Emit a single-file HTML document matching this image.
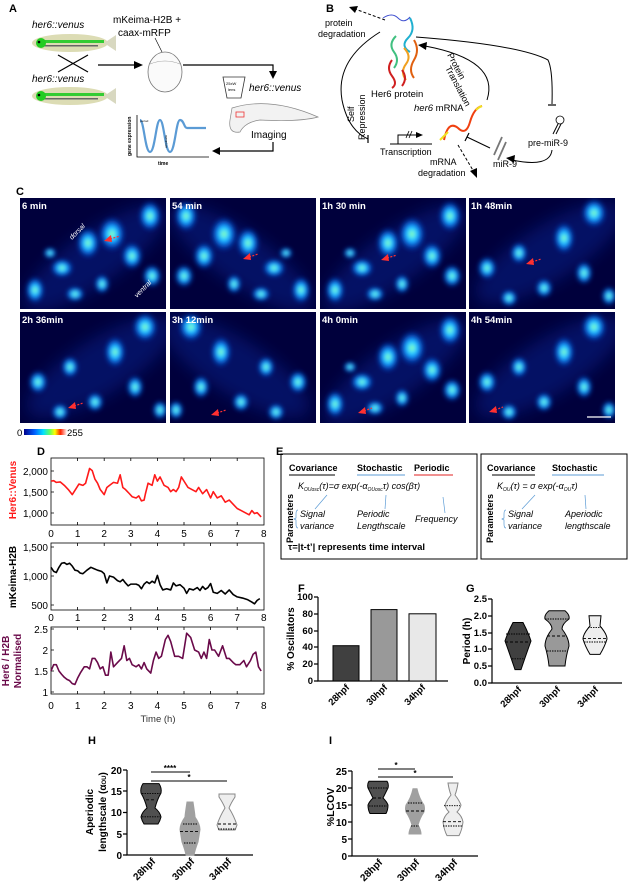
<!DOCTYPE html>
<html><head><meta charset="utf-8"><style>
html,body{margin:0;padding:0;background:#fff;}
svg{display:block;font-family:"Liberation Sans",Arial,sans-serif;}
.b{font-weight:bold;}
.i{font-style:italic;}
</style></head><body>
<svg width="630" height="890" viewBox="0 0 630 890" xmlns="http://www.w3.org/2000/svg">
<defs>
<radialGradient id="cg"><stop offset="0" stop-color="#c8ff50"/><stop offset="0.2" stop-color="#40f0ff"/><stop offset="0.5" stop-color="#1090ff"/><stop offset="1" stop-color="#0820b0" stop-opacity="0"/></radialGradient>
<linearGradient id="cb" x1="0" x2="1"><stop offset="0" stop-color="#00008a"/><stop offset="0.25" stop-color="#0060ff"/><stop offset="0.45" stop-color="#00e0ff"/><stop offset="0.6" stop-color="#60ff60"/><stop offset="0.72" stop-color="#ffff00"/><stop offset="0.85" stop-color="#ff2000"/><stop offset="1" stop-color="#ffffff"/></linearGradient>
<filter id="bl" x="-50%" y="-50%" width="200%" height="200%"><feGaussianBlur stdDeviation="2"/></filter>
<filter id="bl2" x="-50%" y="-50%" width="200%" height="200%"><feGaussianBlur stdDeviation="8"/></filter>
<clipPath id="tc"><rect width="146" height="111"/></clipPath>
<g id="cellsA">
<rect width="146" height="111" fill="#00003c"/>
<ellipse cx="75" cy="60" rx="85" ry="26" transform="rotate(-35 75 60)" fill="#0a30b0" opacity="0.35" filter="url(#bl2)"/>
<g filter="url(#bl)" fill="url(#cg)">
<ellipse cx="15" cy="92" rx="10" ry="14"/><ellipse cx="42" cy="70" rx="12" ry="10"/><ellipse cx="68" cy="45" rx="12" ry="16"/><ellipse cx="92" cy="36" rx="14" ry="18"/><ellipse cx="112" cy="58" rx="11" ry="14"/><ellipse cx="130" cy="18" rx="12" ry="16"/><ellipse cx="82" cy="86" rx="8" ry="10"/><ellipse cx="55" cy="96" rx="10" ry="8"/><ellipse cx="132" cy="78" rx="10" ry="12"/><ellipse cx="30" cy="55" rx="7" ry="6"/>
</g></g>
<g id="cellsB">
<rect width="146" height="111" fill="#00003c"/>
<ellipse cx="80" cy="55" rx="85" ry="28" transform="rotate(-32 80 55)" fill="#0a30b0" opacity="0.35" filter="url(#bl2)"/>
<g filter="url(#bl)" fill="url(#cg)">
<ellipse cx="18" cy="70" rx="10" ry="12"/><ellipse cx="50" cy="55" rx="9" ry="11"/><ellipse cx="95" cy="40" rx="11" ry="16"/><ellipse cx="125" cy="15" rx="13" ry="15"/><ellipse cx="40" cy="100" rx="9" ry="9"/><ellipse cx="75" cy="90" rx="9" ry="10"/><ellipse cx="115" cy="75" rx="9" ry="12"/><ellipse cx="140" cy="98" rx="8" ry="10"/>
</g></g>
</defs>

<!-- Panel A -->
<text x="9" y="12" class="b" font-size="11">A</text>
<text x="32" y="28" class="i" font-size="10">her6::venus</text>
<g>
<ellipse cx="70" cy="43" rx="38" ry="9" fill="#dcdcb4"/>
<path d="M104,43 L116,35 L116,51 Z" fill="#d8d8c0"/>
<rect x="38" y="40" width="66" height="3" fill="#33cc33"/><rect x="38" y="45" width="60" height="1.5" fill="#666"/>
<ellipse cx="41" cy="43" rx="5" ry="5" fill="#2c2"/><circle cx="39" cy="42" r="1.3" fill="#000"/>
</g>
<line x1="58" y1="55" x2="88" y2="72" stroke="#000" stroke-width="1.2"/><line x1="88" y1="55" x2="58" y2="72" stroke="#000" stroke-width="1.2"/>
<text x="32" y="82" class="i" font-size="10">her6::venus</text>
<g>
<ellipse cx="70" cy="96" rx="38" ry="9" fill="#dcdcb4"/>
<path d="M104,96 L116,88 L116,104 Z" fill="#d8d8c0"/>
<rect x="38" y="93" width="66" height="3" fill="#33cc33"/><rect x="38" y="98" width="60" height="1.5" fill="#666"/>
<ellipse cx="41" cy="96" rx="5" ry="5" fill="#2c2"/><circle cx="39" cy="95" r="1.3" fill="#000"/>
</g>
<line x1="98" y1="65" x2="138" y2="65" stroke="#000" stroke-width="1.2"/><path d="M143,65 L134,61 L134,69 Z"/>
<text x="113" y="23" font-size="10">mKeima-H2B +</text>
<text x="118" y="36" font-size="10">caax-mRFP</text>
<line x1="155" y1="38" x2="162" y2="52" stroke="#000" stroke-width="0.6"/>
<ellipse cx="165" cy="72" rx="17" ry="20" fill="#fafafa" stroke="#777" stroke-width="0.8"/>
<path d="M150,64 Q165,58 180,64" fill="none" stroke="#999" stroke-width="0.6"/>
<polyline points="183,65 273,65 273,74" fill="none" stroke="#000" stroke-width="1.2"/><path d="M273,79 L269,71 L277,71 Z"/>
<path d="M223,77 L245,77 L241,98 L227,98 Z" fill="#fff" stroke="#333" stroke-width="0.8"/>
<text x="226" y="85" font-size="4">25xW</text><text x="228" y="91" font-size="4">lens</text>
<text x="249" y="91" class="i" font-size="10">her6::venus</text>
<path d="M232,108 Q270,96 318,117 Q300,122 260,120 Q245,122 240,132 Q228,134 230,120 Z" fill="#f2f2f2" stroke="#888" stroke-width="0.7"/>
<rect x="236" y="112" width="8" height="5" fill="none" stroke="#e33" stroke-width="0.8"/>
<text x="251" y="138" font-size="10">Imaging</text>
<polyline points="273,142 273,151 218,151" fill="none" stroke="#000" stroke-width="1.2"/><path d="M212,151 L220,147 L220,155 Z"/>
<polyline points="137,115 137,157 209,157" fill="none" stroke="#000" stroke-width="0.8"/>
<path d="M140,120 C144,120 145,152 150,152 C155,152 156,120 160,120 C164,120 165,152 170,152 C175,152 176,120 180,120 C184,120 184,128 187,128 L206,128" fill="none" stroke="#5b9bd5" stroke-width="2.2"/>
<text x="0" y="0" font-size="5" class="b" transform="translate(131,156) rotate(-90)">gene expression</text>
<text x="158" y="165" font-size="5" class="b">time</text>
<text x="140" y="122" font-size="3">period</text>
<text x="0" y="0" font-size="3" transform="translate(167,148) rotate(-90)">amplitude</text>

<!-- Panel B -->
<text x="326" y="12" class="b" font-size="11">B</text>
<g fill="none" stroke-width="2">
<path d="M383,18 Q392,12 398,18 T410,17" stroke="#4050d0" stroke-width="1"/>
<path d="M410,18 Q416,30 408,38 Q400,46 410,52" stroke="#20b0d0"/>
<path d="M396,36 Q388,44 394,52 Q400,60 394,68" stroke="#40c080"/>
<path d="M404,48 Q412,56 406,64 Q400,72 406,80" stroke="#f0a020"/>
<path d="M414,40 Q420,50 414,60 Q408,70 414,78" stroke="#e06010"/>
<path d="M392,60 Q386,68 392,76 Q398,84 392,88" stroke="#d02020"/>
<path d="M402,70 Q408,78 402,86" stroke="#d02020"/>
</g>
<text x="371" y="97" font-size="9.5">Her6 protein</text>
<text x="325" y="26" font-size="9">protein</text>
<text x="318" y="37" font-size="9">degradation</text>
<line x1="385" y1="20" x2="355" y2="9" stroke="#000" stroke-width="1" stroke-dasharray="3,2"/><path d="M349,7 L358,6 L355,13 Z"/>
<path d="M380,32 Q335,60 342,100 Q348,130 368,139" fill="none" stroke="#000" stroke-width="1"/>
<line x1="368" y1="135" x2="368" y2="143" stroke="#000" stroke-width="1.2"/>
<text x="0" y="0" font-size="9" transform="translate(354,122) rotate(-90)">Self</text>
<text x="0" y="0" font-size="9" transform="translate(365,140) rotate(-90)">Repression</text>
<line x1="390" y1="144" x2="432" y2="144" stroke="#000" stroke-width="1"/>
<polyline points="398,144 398,135 418,135" fill="none" stroke="#000" stroke-width="1"/><path d="M423,135 L416,132 L416,138 Z"/>
<line x1="406" y1="138" x2="409" y2="131" stroke="#000" stroke-width="0.8"/><line x1="409" y1="138" x2="412" y2="131" stroke="#000" stroke-width="0.8"/>
<text x="380" y="155" font-size="9">Transcription</text>
<text x="414" y="111" font-size="9.5"><tspan class="i">her6</tspan> mRNA</text>
<path d="M444,140 Q448,120 458,128 Q466,136 470,122 Q474,108 482,106" fill="none" stroke="#f04010" stroke-width="2"/>
<path d="M440,140 Q444,136 448,132" stroke="#f0e020" stroke-width="2" fill="none"/>
<path d="M476,110 Q479,107 482,106" stroke="#f0e020" stroke-width="2" fill="none"/>
<text x="430" y="165" font-size="9">mRNA</text>
<text x="418" y="176" font-size="9">degradation</text>
<line x1="458" y1="145" x2="474" y2="172" stroke="#000" stroke-width="1" stroke-dasharray="3,2"/><path d="M477,178 L470,171 L477,168 Z"/>
<text x="0" y="0" font-size="9" transform="translate(447,55) rotate(62)">Protein</text>
<text x="0" y="0" font-size="9" transform="translate(445,68) rotate(62)">Translation</text>
<path d="M487,100 Q500,60 425,46" fill="none" stroke="#000" stroke-width="1"/><path d="M418,45 L427,42 L426,50 Z"/>
<path d="M416,37 Q520,45 548,60 Q553,70 552,104" fill="none" stroke="#000" stroke-width="1"/>
<line x1="548" y1="105" x2="556" y2="105" stroke="#000" stroke-width="1.2"/>
<circle cx="560" cy="120" r="4" fill="#fff" stroke="#000" stroke-width="0.8"/>
<line x1="558" y1="124" x2="553" y2="134" stroke="#000"/><line x1="561" y1="124" x2="556" y2="134" stroke="#000"/>
<text x="528" y="146" font-size="9">pre-miR-9</text>
<path d="M552,150 Q550,168 512,160" fill="none" stroke="#000" stroke-width="1"/><path d="M506,158 L515,155 L514,163 Z"/>
<line x1="494" y1="155" x2="502" y2="137" stroke="#777" stroke-width="1.8"/><line x1="498" y1="160" x2="506" y2="142" stroke="#777" stroke-width="1.8"/>
<text x="493" y="167" font-size="9">miR-9</text>
<line x1="490" y1="148" x2="467" y2="137" stroke="#000" stroke-width="1"/><line x1="465" y1="141" x2="469" y2="133" stroke="#000" stroke-width="1.2"/>

<!-- Panel C -->
<text x="16" y="195" class="b" font-size="11">C</text>
<g>
<g transform="translate(20,198)"><use href="#cellsA" clip-path="url(#tc)"/></g>
<g transform="translate(170,198)"><use href="#cellsA" clip-path="url(#tc)" transform="translate(146,0) scale(-1,1)"/></g>
<g transform="translate(320,198)"><use href="#cellsA" clip-path="url(#tc)"/></g>
<g transform="translate(469,198)"><use href="#cellsB" clip-path="url(#tc)"/></g>
<g transform="translate(20,312)"><use href="#cellsB" clip-path="url(#tc)"/></g>
<g transform="translate(170,312)"><use href="#cellsB" clip-path="url(#tc)" transform="translate(146,0) scale(-1,1)"/></g>
<g transform="translate(320,312)"><use href="#cellsA" clip-path="url(#tc)"/></g>
<g transform="translate(469,312)"><use href="#cellsB" clip-path="url(#tc)"/></g>
</g>
<g fill="#fff" class="b" font-size="9.5">
<text x="22" y="209">6 min</text><text x="172" y="209">54 min</text><text x="322" y="209">1h 30 min</text><text x="471" y="209">1h 48min</text>
<text x="22" y="323">2h 36min</text><text x="172" y="323">3h 12min</text><text x="322" y="323">4h 0min</text><text x="471" y="323">4h 54min</text>
</g>
<text x="0" y="0" fill="#fff" font-size="7" class="i" transform="translate(72,240) rotate(-45)">dorsal</text>
<text x="0" y="0" fill="#fff" font-size="7" class="i" transform="translate(137,298) rotate(-45)">ventral</text>
<g stroke="#ff3030" stroke-width="1.2" stroke-dasharray="2,1.5" fill="#ff3030">
<line x1="110" y1="239" x2="120" y2="236"/><line x1="249" y1="257" x2="258" y2="254"/><line x1="387" y1="258" x2="397" y2="255"/><line x1="532" y1="262" x2="541" y2="259"/>
<line x1="74" y1="406" x2="83" y2="403"/><line x1="217" y1="413" x2="226" y2="410"/><line x1="364" y1="411" x2="372" y2="408"/><line x1="495" y1="410" x2="503" y2="407"/>
</g>
<g fill="#ff3030">
<path d="M104,241 L111,235 L112,242 Z"/><path d="M243,259 L250,253 L251,260 Z"/><path d="M381,260 L388,254 L389,261 Z"/><path d="M526,264 L533,258 L534,265 Z"/>
<path d="M68,408 L75,402 L76,409 Z"/><path d="M211,415 L218,409 L219,416 Z"/><path d="M358,413 L365,407 L366,414 Z"/><path d="M489,412 L496,406 L497,413 Z"/>
</g>
<line x1="587" y1="417" x2="611" y2="417" stroke="#fff" stroke-width="1.2"/>
<text x="17" y="436" font-size="9.5">0</text>
<rect x="24" y="429" width="43" height="6" fill="url(#cb)"/>
<text x="67" y="436" font-size="9.5">255</text>

<!-- Panel D -->
<text x="37" y="455" class="b" font-size="11">D</text>
<g fill="none" stroke="#000" stroke-width="0.8">
<rect x="51" y="458" width="213" height="67"/>
<rect x="51" y="543" width="213" height="67"/>
<rect x="51" y="627" width="213" height="67"/>
</g>
<g stroke="#000" stroke-width="0.8">
<path d="M77.6,525v-3M104.2,525v-3M130.8,525v-3M157.4,525v-3M184,525v-3M210.6,525v-3M237.2,525v-3M77.6,458v3M104.2,458v3M130.8,458v3M157.4,458v3M184,458v3M210.6,458v3M237.2,458v3"/>
<path d="M77.6,610v-3M104.2,610v-3M130.8,610v-3M157.4,610v-3M184,610v-3M210.6,610v-3M237.2,610v-3M77.6,543v3M104.2,543v3M130.8,543v3M157.4,543v3M184,543v3M210.6,543v3M237.2,543v3"/>
<path d="M77.6,694v-3M104.2,694v-3M130.8,694v-3M157.4,694v-3M184,694v-3M210.6,694v-3M237.2,694v-3M77.6,627v3M104.2,627v3M130.8,627v3M157.4,627v3M184,627v3M210.6,627v3M237.2,627v3"/>
<path d="M51,471h3M51,492h3M51,513h3M51,547h3M51,576h3M51,605h3M51,629h3M51,650h3M51,671h3M51,692h3"/>
</g>
<g font-size="10" text-anchor="end">
<text x="48" y="475">2,000</text><text x="48" y="496">1,500</text><text x="48" y="517">1,000</text>
<text x="48" y="551">1,500</text><text x="48" y="580">1,000</text><text x="48" y="609">500</text>
<text x="48" y="633">2.5</text><text x="48" y="654">2</text><text x="48" y="675">1.5</text><text x="48" y="696">1</text>
</g>
<g font-size="10" text-anchor="middle">
<text x="51" y="537">0</text><text x="77.6" y="537">1</text><text x="104.2" y="537">2</text><text x="130.8" y="537">3</text><text x="157.4" y="537">4</text><text x="184" y="537">5</text><text x="210.6" y="537">6</text><text x="237.2" y="537">7</text><text x="263.8" y="537">8</text>
<text x="51" y="621">0</text><text x="77.6" y="621">1</text><text x="104.2" y="621">2</text><text x="130.8" y="621">3</text><text x="157.4" y="621">4</text><text x="184" y="621">5</text><text x="210.6" y="621">6</text><text x="237.2" y="621">7</text><text x="263.8" y="621">8</text>
<text x="51" y="709">0</text><text x="77.6" y="709">1</text><text x="104.2" y="709">2</text><text x="130.8" y="709">3</text><text x="157.4" y="709">4</text><text x="184" y="709">5</text><text x="210.6" y="709">6</text><text x="237.2" y="709">7</text><text x="263.8" y="709">8</text>
<text x="158" y="722" font-size="9.5" fill="#333">Time (h)</text>
</g>
<text x="0" y="0" class="b" font-size="10" fill="#ff1a1a" text-anchor="middle" transform="translate(16,490) rotate(-90)">Her6::Venus</text>
<text x="0" y="0" class="b" font-size="10" text-anchor="middle" transform="translate(16,577) rotate(-90)">mKeima-H2B</text>
<text x="0" y="0" class="b" font-size="10" fill="#6a0a4a" text-anchor="middle" transform="translate(9,661) rotate(-90)">Her6 / H2B</text>
<text x="0" y="0" class="b" font-size="10" fill="#6a0a4a" text-anchor="middle" transform="translate(21,661) rotate(-90)">Normalised</text>
<g fill="none" stroke-width="1.6" stroke-linejoin="round">
<polyline vector-effect="non-scaling-stroke" stroke="#ff1a1a" transform="translate(51,554.8) scale(26.6,-0.0421)" points="0,1750 0.1,1760 0.2,1720 0.35,1730 0.5,1650 0.65,1550 0.8,1430 0.95,1580 1.05,1680 1.2,1650 1.3,1700 1.45,2050 1.55,2000 1.65,1800 1.75,1700 1.85,1550 2,1430 2.1,1600 2.2,1650 2.35,1720 2.5,1700 2.6,1900 2.7,1600 2.8,1550 2.95,1450 3.05,1380 3.2,1350 3.3,1400 3.4,1280 3.5,1300 3.55,1450 3.65,1700 3.8,1650 3.9,1900 4,1750 4.1,1850 4.25,1650 4.4,1600 4.5,1500 4.6,1550 4.7,1500 4.8,1600 4.9,1850 5,1750 5.15,1600 5.3,1550 5.45,1500 5.55,1600 5.7,1450 5.85,1550 6,1350 6.1,1500 6.25,1350 6.4,1400 6.55,1250 6.7,1300 6.85,1200 7,1100 7.15,1050 7.3,1000 7.45,950 7.55,1050 7.65,980 7.75,1000 7.9,900"/>
<polyline vector-effect="non-scaling-stroke" stroke="#000" transform="translate(51,634) scale(26.6,-0.058)" points="0,1150 0.1,1080 0.2,1060 0.3,1150 0.4,1220 0.5,1230 0.6,1200 0.7,1220 0.8,1170 0.9,1100 1,1090 1.1,1050 1.2,1040 1.35,1100 1.5,1150 1.6,1130 1.75,1100 1.9,1080 2,1040 2.1,880 2.2,1000 2.35,980 2.5,920 2.6,900 2.7,940 2.8,880 2.9,830 3,860 3.2,860 3.3,840 3.4,780 3.5,860 3.6,900 3.7,870 3.8,910 3.9,880 4,1010 4.1,850 4.2,760 4.35,780 4.5,760 4.6,880 4.7,830 4.85,850 5,790 5.1,700 5.2,780 5.35,760 5.5,800 5.6,750 5.7,820 5.8,770 5.9,800 6,870 6.1,720 6.25,700 6.4,750 6.55,690 6.7,760 6.85,680 7,640 7.2,620 7.4,590 7.55,550 7.65,520 7.75,580 7.85,610"/>
<polyline vector-effect="non-scaling-stroke" stroke="#6a0a4a" transform="translate(51,734) scale(26.6,-42)" points="0,1.5 0.1,1.65 0.2,1.65 0.3,1.5 0.4,1.42 0.5,1.35 0.6,1.3 0.7,1.27 0.8,1.2 0.9,1.18 1,1.33 1.1,1.45 1.25,1.6 1.35,1.6 1.45,1.55 1.55,1.8 1.65,1.8 1.75,1.7 1.85,1.55 1.95,1.6 2.05,1.4 2.15,1.4 2.25,1.95 2.35,1.6 2.5,1.7 2.65,1.8 2.75,2.1 2.85,1.75 2.95,1.8 3.05,1.65 3.2,1.6 3.3,1.65 3.4,1.55 3.5,1.7 3.6,1.55 3.75,1.45 3.85,1.75 3.95,1.95 4.05,1.8 4.15,1.85 4.3,2.25 4.4,2.35 4.5,2.2 4.65,1.85 4.8,1.85 4.95,1.8 5.1,2.4 5.25,2.3 5.4,2 5.55,1.95 5.65,1.8 5.75,1.95 5.85,1.8 5.95,2.25 6.05,2 6.15,2 6.3,1.85 6.45,2.1 6.6,1.8 6.7,1.8 6.85,1.7 6.95,1.65 7.1,1.65 7.25,1.75 7.35,1.6 7.5,1.75 7.6,1.9 7.7,1.95 7.8,1.6 7.9,1.5"/>
</g>

<!-- Panel E -->
<text x="276" y="455" class="b" font-size="11">E</text>
<rect x="281" y="454" width="196" height="105" fill="none" stroke="#000" stroke-width="1"/>
<rect x="481" y="454" width="146" height="105" fill="none" stroke="#000" stroke-width="1"/>
<g class="b" font-size="9">
<text x="289" y="471">Covariance</text><text x="357" y="471">Stochastic</text><text x="414" y="471">Periodic</text>
<text x="487" y="471">Covariance</text><text x="552" y="471">Stochastic</text>
</g>
<line x1="289" y1="475" x2="335" y2="475" stroke="#000" stroke-width="1"/>
<line x1="357" y1="475" x2="405" y2="475" stroke="#5b9bd5" stroke-width="1"/>
<line x1="414" y1="475" x2="453" y2="475" stroke="#e02020" stroke-width="1"/>
<line x1="492" y1="475" x2="535" y2="475" stroke="#000" stroke-width="1"/>
<line x1="552" y1="475" x2="604" y2="475" stroke="#5b9bd5" stroke-width="1"/>
<g class="i" font-size="9">
<text x="298" y="489">K<tspan font-size="5" dy="2">OUosc</tspan><tspan dy="-2">(τ)=σ exp(-α</tspan><tspan font-size="5" dy="2">OUosc</tspan><tspan dy="-2">τ) cos(βτ)</tspan></text>
<text x="497" y="489">K<tspan font-size="5" dy="2">OU</tspan><tspan dy="-2">(τ) = σ exp(-α</tspan><tspan font-size="5" dy="2">OU</tspan><tspan dy="-2">τ)</tspan></text>
<text x="300" y="517">Signal</text><text x="300" y="529">variance</text>
<text x="357" y="517">Periodic</text><text x="357" y="529">Lengthscale</text>
<text x="415" y="522">Frequency</text>
<text x="508" y="517">Signal</text><text x="508" y="529">variance</text>
<text x="565" y="517">Aperiodic</text><text x="565" y="529">lengthscale</text>
</g>
<g stroke="#5b9bd5" stroke-width="0.7" fill="none">
<line x1="315" y1="509" x2="327" y2="495"/><line x1="385" y1="509" x2="386" y2="495"/><line x1="445" y1="513" x2="443" y2="497"/>
<line x1="522" y1="509" x2="535" y2="495"/><line x1="586" y1="509" x2="585" y2="495"/>
<path d="M298,510 q-2,0 -2,4 v4 l-2,1 l2,1 v4 q0,4 2,4"/>
<path d="M506,510 q-2,0 -2,4 v4 l-2,1 l2,1 v4 q0,4 2,4"/>
</g>
<text x="0" y="0" class="b" font-size="9" transform="translate(293,543) rotate(-90)">Parameters</text>
<text x="0" y="0" class="b" font-size="9" transform="translate(493,543) rotate(-90)">Parameters</text>
<text x="288" y="550" class="b" font-size="9.5">τ=|t-t’| represents time interval</text>

<!-- Panel F -->
<text x="298" y="592" class="b" font-size="11">F</text>
<g stroke="#000" stroke-width="1.2" fill="none"><polyline points="318,597 318,681 448,681"/>
<path d="M314,597h4M314,614h4M314,631h4M314,647h4M314,664h4M314,681h4"/></g>
<g class="b" font-size="9.5" text-anchor="end">
<text x="313" y="600">100</text><text x="313" y="617">80</text><text x="313" y="634">60</text><text x="313" y="650">40</text><text x="313" y="667">20</text><text x="313" y="684">0</text></g>
<text x="0" y="0" class="b" font-size="10" text-anchor="middle" transform="translate(294,639) rotate(-90)">% Oscillators</text>
<rect x="333" y="645.7" width="26" height="35.3" fill="#404040" stroke="#000" stroke-width="1"/>
<rect x="371" y="609.6" width="26" height="71.4" fill="#999" stroke="#000" stroke-width="1"/>
<rect x="409" y="613.8" width="27" height="67.2" fill="#e8e8e8" stroke="#000" stroke-width="1"/>
<g class="b" font-size="9.5" text-anchor="end">
<text transform="translate(350,688) rotate(-45)">28hpf</text>
<text transform="translate(388,688) rotate(-45)">30hpf</text>
<text transform="translate(426,688) rotate(-45)">34hpf</text>
</g>

<!-- Panel G -->
<text x="466" y="592" class="b" font-size="11">G</text>
<g stroke="#000" stroke-width="1.2" fill="none"><polyline points="492,599 492,683 622,683"/>
<path d="M488,599h4M488,616h4M488,633h4M488,649h4M488,666h4M488,683h4"/></g>
<g class="b" font-size="9.5" text-anchor="end">
<text x="487" y="602">2.5</text><text x="487" y="619">2.0</text><text x="487" y="636">1.5</text><text x="487" y="652">1.0</text><text x="487" y="669">0.5</text><text x="487" y="686">0.0</text></g>
<text x="0" y="0" class="b" font-size="10" text-anchor="middle" transform="translate(470,641) rotate(-90)">Period (h)</text>
<g stroke="#000" stroke-width="1">
<path d="M513,622.5 L523,622.5 Q528,632 531,641 Q527,652 521,669.6 L515,669.6 Q509,652 505,641 Q508,632 513,622.5 Z" fill="#404040"/>
<path d="M549,610.8 L565,610.8 Q570,615 569,619 Q562,624 562,629 Q569,638 569,646 Q566,656 565,666 L549,666 Q548,656 545,646 Q545,638 552,629 Q552,624 545,619 Q544,615 549,610.8 Z" fill="#999"/>
<path d="M589,615.8 L601,615.8 L600,626 Q607,634 607,639 Q605,646 600,654.4 L590,654.4 Q585,646 583,639 Q583,634 590,626 Z" fill="#eee"/>
</g>
<g stroke="#000" stroke-width="0.9">
<line x1="506" y1="634" x2="530" y2="634" stroke-dasharray="1.5,1"/><line x1="505" y1="642" x2="531" y2="642" stroke-dasharray="3,2"/><line x1="512" y1="658.8" x2="524" y2="658.8" stroke-dasharray="1.5,1"/>
<line x1="545" y1="619" x2="569" y2="619" stroke-dasharray="1.5,1"/><line x1="547" y1="636" x2="567" y2="636" stroke-dasharray="3,2"/><line x1="547" y1="651" x2="567" y2="651" stroke-dasharray="1.5,1"/>
<line x1="588" y1="627.6" x2="602" y2="627.6" stroke-dasharray="1.5,1"/><line x1="583" y1="638.6" x2="607" y2="638.6" stroke-dasharray="3,2"/><line x1="584" y1="642" x2="606" y2="642" stroke-dasharray="1.5,1"/>
</g>
<g class="b" font-size="9.5" text-anchor="end">
<text transform="translate(522,690) rotate(-45)">28hpf</text>
<text transform="translate(561,690) rotate(-45)">30hpf</text>
<text transform="translate(599,690) rotate(-45)">34hpf</text>
</g>

<!-- Panel H -->
<text x="88" y="744" class="b" font-size="11">H</text>
<g stroke="#000" stroke-width="1.2" fill="none"><polyline points="127,770 127,855 253,855"/>
<path d="M123,770h4M123,791h4M123,812.5h4M123,834h4M123,855h4"/></g>
<g class="b" font-size="10" text-anchor="end">
<text x="122" y="774">20</text><text x="122" y="795">15</text><text x="122" y="816">10</text><text x="122" y="838">5</text><text x="122" y="859">0</text></g>
<text x="0" y="0" class="b" font-size="10" text-anchor="middle" transform="translate(93,812) rotate(-90)">Aperiodic</text>
<text x="0" y="0" class="b" font-size="10" text-anchor="middle" transform="translate(106,812) rotate(-90)">lengthscale (α<tspan font-size="6">OU</tspan>)</text>
<g stroke="#000" stroke-width="1">
<path d="M143,783.6 L159,783.6 Q162,788 161,793 Q157,800 155,808 Q160,812 161,817 Q160,821 158,824 L144,824 Q142,821 141,817 Q142,812 147,808 Q145,800 141,793 Q140,788 143,783.6 Z" fill="#505050"/>
<path d="M187,802 L193,802 Q195,815 195,817 Q200,824 200,829.5 Q199,836 198,842 Q195,850 194,855 L186,855 Q185,850 182,842 Q181,836 180,829.5 Q180,824 185,817 Q185,815 187,802 Z" fill="#a0a0a0" stroke="#a0a0a0"/>
<path d="M219,794 L235,794 L235,797 Q231,803 229,808 Q234,816 237,825 Q236,828 235,830 L219,830 Q218,828 217,825 Q220,816 225,808 Q223,803 219,797 Z" fill="#eee" stroke="#888"/>
</g>
<g stroke="#000" stroke-width="0.9">
<line x1="142" y1="793.4" x2="160" y2="793.4" stroke-dasharray="1.5,1"/><line x1="146" y1="799.8" x2="156" y2="799.8" stroke-dasharray="3,2"/><line x1="142" y1="816.8" x2="160" y2="816.8" stroke-dasharray="1.5,1"/>
<line x1="183" y1="824" x2="197" y2="824" stroke-dasharray="1.5,1"/><line x1="180" y1="831.6" x2="200" y2="831.6" stroke-dasharray="3,2"/><line x1="184" y1="843" x2="196" y2="843" stroke-dasharray="1.5,1"/>
<line x1="218" y1="824" x2="236" y2="824" stroke-dasharray="3,2"/><line x1="218" y1="829" x2="236" y2="829" stroke-dasharray="1.5,1"/>
</g>
<g stroke="#000" stroke-width="1"><line x1="151" y1="772" x2="190" y2="772"/><line x1="151" y1="781" x2="227" y2="781"/></g>
<text x="170" y="771" class="b" font-size="8" text-anchor="middle">****</text>
<text x="189" y="780" class="b" font-size="8" text-anchor="middle">*</text>
<g class="b" font-size="10" text-anchor="end">
<text transform="translate(156,862) rotate(-45)">28hpf</text>
<text transform="translate(195,862) rotate(-45)">30hpf</text>
<text transform="translate(232,862) rotate(-45)">34hpf</text>
</g>

<!-- Panel I -->
<text x="329" y="744" class="b" font-size="11">I</text>
<g stroke="#000" stroke-width="1.2" fill="none"><polyline points="352,771 352,856 478,856"/>
<path d="M348,771h4M348,788h4M348,805h4M348,822h4M348,839h4M348,856h4"/></g>
<g class="b" font-size="10" text-anchor="end">
<text x="347" y="775">25</text><text x="347" y="792">20</text><text x="347" y="809">15</text><text x="347" y="826">10</text><text x="347" y="843">5</text><text x="347" y="860">0</text></g>
<text x="0" y="0" class="b" font-size="10.5" text-anchor="middle" transform="translate(334,807) rotate(-90)">%LCOV</text>
<g stroke="#000" stroke-width="1">
<path d="M369,781.2 L387,781.2 Q389,784 388,788 Q385,794 383,798 Q387,802 388,805 Q388,810 386,813.5 L370,813.5 Q368,810 368,805 Q369,802 373,798 Q371,794 368,788 Q367,784 369,781.2 Z" fill="#505050"/>
<path d="M413,788.7 L417,788.7 Q419,798 424,805 Q425,809 424,812 Q420,818 418,825 Q421,830 421,834 L409,834 Q409,830 412,825 Q410,818 406,812 Q405,809 406,805 Q411,798 413,788.7 Z" fill="#a0a0a0" stroke="#a0a0a0"/>
<path d="M448,783 L458,783 Q457,790 455,795 Q459,800 461,805 Q460,809 457,812 Q462,816 463,822 Q462,830 459,835.6 L447,835.6 Q444,830 443,822 Q444,816 449,812 Q446,809 445,805 Q447,800 451,795 Q449,790 448,783 Z" fill="#eee" stroke="#888"/>
</g>
<g stroke="#000" stroke-width="0.9">
<line x1="368" y1="788" x2="388" y2="788" stroke-dasharray="1.5,1"/><line x1="373" y1="798" x2="383" y2="798" stroke-dasharray="3,2"/><line x1="369" y1="806" x2="387" y2="806" stroke-dasharray="1.5,1"/>
<line x1="408" y1="803" x2="422" y2="803" stroke-dasharray="1.5,1"/><line x1="406" y1="811" x2="424" y2="811" stroke-dasharray="3,2"/><line x1="411" y1="826" x2="419" y2="826" stroke-dasharray="1.5,1"/>
<line x1="444" y1="805.7" x2="460" y2="805.7" stroke-dasharray="1.5,1"/><line x1="443" y1="821.7" x2="463" y2="821.7" stroke-dasharray="3,2"/><line x1="443" y1="826" x2="463" y2="826" stroke-dasharray="1.5,1"/>
</g>
<g stroke="#000" stroke-width="1"><line x1="378" y1="769" x2="415" y2="769"/><line x1="378" y1="777" x2="453" y2="777"/></g>
<text x="396" y="768" class="b" font-size="8" text-anchor="middle">*</text>
<text x="415" y="776" class="b" font-size="8" text-anchor="middle">*</text>
<g class="b" font-size="10" text-anchor="end">
<text transform="translate(383,863) rotate(-45)">28hpf</text>
<text transform="translate(420,863) rotate(-45)">30hpf</text>
<text transform="translate(458,863) rotate(-45)">34hpf</text>
</g>
</svg>
</body></html>
